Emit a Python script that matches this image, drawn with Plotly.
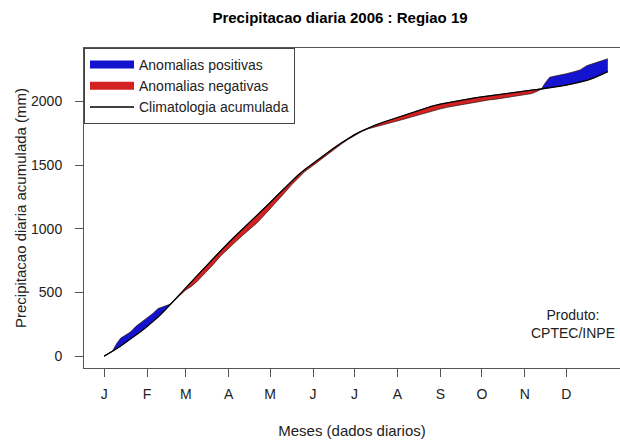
import numpy as np
import plotly.graph_objects as go

# ---- data (day of year, cumulative mm) ----
days = [1, 4, 7, 10, 13, 16, 20, 24, 28, 32, 36, 40, 44, 48, 51, 55, 60, 64, 68, 72,
        76, 80, 85, 91, 96, 101, 106, 111, 116, 121, 126, 131, 136, 141, 146, 152,
        157, 162, 167, 172, 177, 182, 187, 192, 197, 202, 207, 213, 218, 223, 228,
        233, 238, 244, 249, 254, 259, 264, 269, 274, 279, 284, 289, 294, 299, 305,
        310, 314, 317, 320, 323, 327, 331, 335, 340, 345, 350, 355, 360, 365]

climatologia = [0, 18, 38, 58, 80, 102, 132, 164, 197, 232, 267, 308, 350, 395, 430,
                478, 537, 583, 630, 677, 724, 770, 828, 893, 945, 996, 1048, 1100,
                1153, 1207, 1262, 1317, 1370, 1420, 1466, 1515, 1557, 1596, 1635,
                1672, 1707, 1740, 1768, 1793, 1815, 1835, 1853, 1878, 1897, 1915,
                1932, 1948, 1963, 1980, 1991, 2001, 2011, 2020, 2029, 2037, 2045,
                2052, 2060, 2067, 2074, 2082, 2089, 2094, 2098, 2103, 2108, 2114,
                2121, 2128, 2139, 2151, 2166, 2186, 2209, 2234]

observado = [0, 16, 40, 98, 142, 162, 190, 234, 266, 300, 334, 374, 390, 405, 430,
             470, 520, 548, 585, 630, 672, 722, 785, 850, 898, 948, 995, 1042, 1098,
             1156, 1215, 1278, 1340, 1398, 1450, 1497, 1540, 1580, 1622, 1662, 1700,
             1735, 1763, 1786, 1800, 1812, 1828, 1846, 1862, 1878, 1894, 1909, 1924,
             1942, 1955, 1965, 1976, 1985, 1993, 2003, 2012, 2018, 2027, 2035, 2044,
             2052, 2062, 2080, 2098, 2150, 2190, 2200, 2208, 2218, 2232, 2248, 2282,
             2298, 2315, 2335]

month_days = [1, 32, 60, 91, 121, 152, 182, 213, 244, 274, 305, 335]
month_labels = ["J", "F", "M", "A", "M", "J", "J", "A", "S", "O", "N", "D"]
y_ticks = [0, 500, 1000, 1500, 2000]

BLUE = "#1414D0"
RED = "#D42222"
EDGE = "#2a1010"
AXIS = "#555555"
FONT = "Liberation Sans, Arial, Helvetica, sans-serif"

clim_a = np.array(climatologia, dtype=float)
obs_a = np.array(observado, dtype=float)
upper = np.maximum(obs_a, clim_a)
lower = np.minimum(obs_a, clim_a)

fig = go.Figure()

# positive anomalies (obs above climatology)
fig.add_trace(go.Scatter(x=days, y=clim_a, mode="lines", line=dict(width=0, color=EDGE),
                         showlegend=False, hoverinfo="skip"))
fig.add_trace(go.Scatter(x=days, y=upper, mode="lines", fill="tonexty", fillcolor=BLUE,
                         line=dict(width=0.7, color=EDGE), showlegend=False,
                         hoverinfo="skip"))
# negative anomalies (obs below climatology)
fig.add_trace(go.Scatter(x=days, y=clim_a, mode="lines", line=dict(width=0, color=EDGE),
                         showlegend=False, hoverinfo="skip"))
fig.add_trace(go.Scatter(x=days, y=lower, mode="lines", fill="tonexty", fillcolor=RED,
                         line=dict(width=0.7, color=EDGE), showlegend=False,
                         hoverinfo="skip"))
# climatology line
fig.add_trace(go.Scatter(x=days, y=clim_a, mode="lines", line=dict(width=1.3, color="black"),
                         showlegend=False))

# legend entries
fig.add_trace(go.Scatter(x=[None], y=[None], mode="lines", name="Anomalias positivas",
                         line=dict(width=8, color=BLUE)))
fig.add_trace(go.Scatter(x=[None], y=[None], mode="lines", name="Anomalias negativas",
                         line=dict(width=8, color=RED)))
fig.add_trace(go.Scatter(x=[None], y=[None], mode="lines", name="Climatologia acumulada",
                         line=dict(width=1.5, color="black")))

fig.update_layout(
    width=620, height=442,
    margin=dict(l=84, r=0, t=48, b=74, autoexpand=False),
    paper_bgcolor="white", plot_bgcolor="white",
    font=dict(family=FONT, size=14, color="#222222"),
    title=dict(text="<b>Precipitacao diaria 2006 : Regiao 19</b>",
               font=dict(family=FONT, size=15, color="black"),
               xref="container", x=340 / 620, xanchor="center",
               yref="container", y=1 - 18 / 442, yanchor="middle"),
    showlegend=True,
    legend=dict(x=0, y=1, xanchor="left", yanchor="top", bgcolor="white",
                bordercolor="#444444", borderwidth=1, traceorder="normal",
                itemwidth=44,
                font=dict(family=FONT, size=14, color="#222222"),
                tracegroupgap=0),
    xaxis=dict(range=[-13.56, 373.8], tickmode="array", tickvals=month_days,
               ticktext=month_labels, showgrid=False, zeroline=False,
               showline=True, linecolor=AXIS, linewidth=1, mirror=True,
               ticks="outside", ticklen=8, tickcolor=AXIS, ticklabelstandoff=5,
               automargin=False,
               title=dict(text="Meses (dados diarios)", font=dict(size=15),
                          standoff=24)),
    yaxis=dict(range=[-93, 2420], tickmode="array", tickvals=y_ticks,
               ticktext=[str(v) for v in y_ticks], showgrid=False, zeroline=False,
               showline=True, linecolor=AXIS, linewidth=1, mirror=False,
               ticks="outside", ticklen=8, tickcolor=AXIS, ticklabelstandoff=10,
               automargin=False,
               title=dict(text="Precipitacao diaria acumulada (mm)",
                          font=dict(size=15), standoff=0)),
    annotations=[dict(text="Produto:<br>CPTEC/INPE", xref="paper", yref="paper",
                      x=(617 - 84) / 536, y=(368 - 324) / 320, xanchor="right",
                      yanchor="middle", showarrow=False, align="center",
                      font=dict(family=FONT, size=14, color="#222222"))],
)

fig.write_html("out.html",
               config={"displayModeBar": False},
               post_script="document.body.style.margin='0';document.body.style.padding='0';")
